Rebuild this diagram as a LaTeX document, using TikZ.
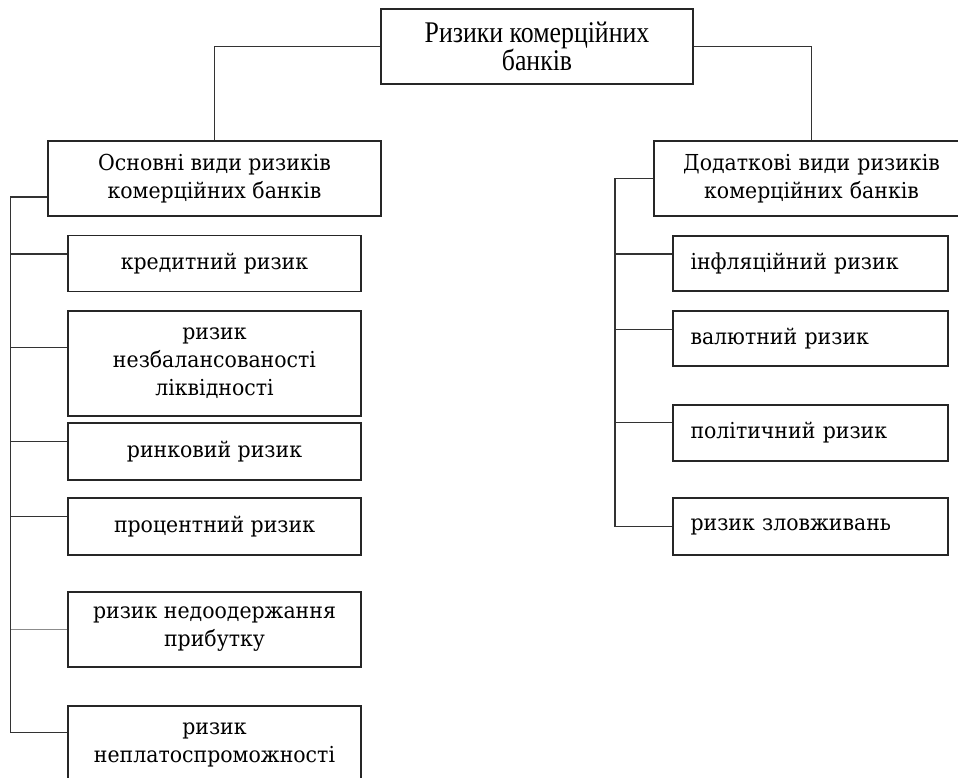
\documentclass[tikz,border=0pt]{standalone}
\usepackage{fontspec}
\setmainfont[FakeStretch=0.93]{DejaVu Serif}
\newfontfamily\topfont[FakeStretch=0.86]{Liberation Serif}
\begin{document}
\begin{tikzpicture}[x=1pt,y=-1pt,
  box/.style={draw=black!85,line width=1.2pt,inner sep=0pt,align=center,
    font=\fontsize{22}{28}\selectfont,text=black},
  lbox/.style={box,text width=#1,align=left},
  wire/.style={draw=black!80,line width=1.2pt},
  gwire/.style={draw=black!45,line width=1.2pt}]
\useasboundingbox (0,0) rectangle (958,778);
\clip (0,0) rectangle (958,778);
\fill[white] (0,0) rectangle (958,778);
% top
\node[box,minimum width=312pt,minimum height=75pt,font=\topfont\fontsize{30}{28}\selectfont] (top) at (537,46.5) {Ризики комерційних\\банків};
\node[box,minimum width=333pt,minimum height=75pt] (osn) at (214.5,178.5) {Основні види ризиків\\комерційних банків};
\node[box,minimum width=315pt,minimum height=75pt,text width=315pt] (dod) at (811.5,178.5) {Додаткові види ризиків\\комерційних банків};
% left items
\node[box,minimum width=293pt,minimum height=55.5pt] (k1) at (214.5,263.5) {кредитний ризик};
\node[box,minimum width=293pt,minimum height=105pt] (k2) at (214.5,363.5) {ризик\\незбалансованості\\ліквідності};
\node[box,minimum width=293pt,minimum height=57pt] (k3) at (214.5,451.5) {ринковий ризик};
\node[box,minimum width=293pt,minimum height=57pt] (k4) at (214.5,526.5) {процентний ризик};
\node[box,minimum width=293pt,minimum height=75pt] (k5) at (214.5,629.5) {ризик недоодержання\\прибутку};
\node[box,minimum width=293pt,minimum height=77pt] (k6) at (214.5,744.5) {ризик\\неплатоспроможності};
% right items
\node[lbox=240pt,minimum width=275pt,minimum height=55pt] (r1) at (810.5,263.5) {інфляційний ризик};
\node[lbox=240pt,minimum width=275pt,minimum height=55pt] (r2) at (810.5,338.5) {валютний ризик};
\node[lbox=240pt,minimum width=275pt,minimum height=56pt] (r3) at (810.5,433) {політичний ризик};
\node[lbox=240pt,minimum width=275pt,minimum height=57pt] (r4) at (810.5,526.5) {ризик зловживань};
% top connectors
\draw[wire] (top.west) -| (osn.north);
\draw[wire] (top.east) -| (dod.north);
% left spine
\coordinate (Ltop) at (10.5,197);
\draw[wire] ([yshift=-18.5pt]osn.west) -- (Ltop) |- ([yshift=11.8pt]k6.west);
\draw[wire] ([yshift=9.5pt]k1.west) -| (Ltop);
\draw[wire] ([yshift=15.8pt]k2.west) -| (Ltop);
\draw[wire] ([yshift=9.8pt]k3.west) -| (Ltop);
\draw[wire] ([yshift=9.8pt]k4.west) -| (Ltop);
\draw[gwire] (k5.west) -- (k5.west -| Ltop);
% right spine
\coordinate (Rtop) at (615,178.5);
\draw[wire] (dod.west) -- (Rtop) |- (r4.west);
\draw[wire] ([yshift=9.5pt]r1.west) -| (Rtop);
\draw[wire] ([yshift=9.2pt]r2.west) -| (Rtop);
\draw[wire] ([yshift=10.7pt]r3.west) -| (Rtop);
\end{tikzpicture}
\end{document}
